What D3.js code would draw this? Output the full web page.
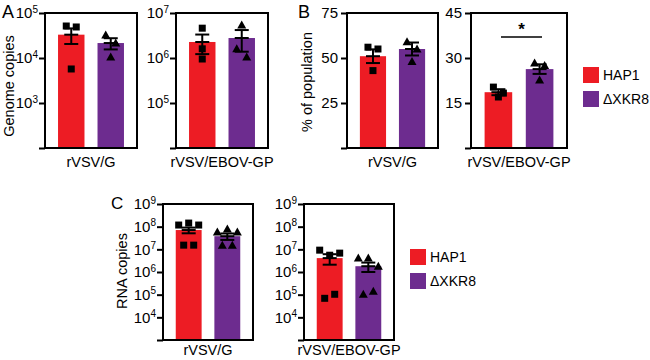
<!DOCTYPE html>
<html>
<head>
<meta charset="utf-8">
<script src="https://cdn.jsdelivr.net/npm/d3@7"></script>
<style>
  body { margin: 0; background: #fff; }
  text { font-family: "Liberation Sans", Arial, sans-serif; fill: #000; }
</style>
</head>
<body>
<div id="chart"></div>
<script>
// groups and categories
var groups = ["HAP1", "\u0394XKR8"]
var viruses = ["rVSV/G", "rVSV/EBOV-GP"]

// A: genome copies, [HAP1, dXKR8]
var genomeGMean = [33000, 21500]
var genomeGSem = [12500, 6000]
var genomeGPts = [[51400, 48900, 5700], [32400, 21500, 10500]]
var genomeEbMean = [2.27e6, 2.78e6]
var genomeEbSem = [1.05e6, 1.4e6]
var genomeEbPts = [[4.6e6, 1.6e6, 9.5e5], [5.4e6, 1.6e6, 1.05e6]]

// B: % of population
var popGMean = [51, 55]
var popGSem = [3.8, 3.6]
var popGPts = [[56, 55, 43], [59, 55, 48]]
var popEbMean = [18.6, 26.3]
var popEbSem = [1.0, 1.6]
var popEbPts = [[20.3, 17, 18.3], [28.3, 27.5, 22.7]]

// C: RNA copies
var rnaGMean = [7.1e7, 3.8e7]
var rnaGSem = [2.0e7, 1.2e7]
var rnaGPts = [[1.18e8, 1.44e8, 1.18e8, 1.53e7, 1.53e7], [5.8e7, 7.8e7, 5.8e7, 1.53e7, 1.53e7]]
var rnaEbMean = [4.1e6, 1.8e6]
var rnaEbSem = [2.0e6, 0.8e6]
var rnaEbPts = [[9.2e6, 5.5e6, 6.8e6, 6.9e4, 1.04e5], [4.1e6, 4.1e6, 1.8e6, 1.04e5, 1.4e5]]

// tick values
var ticksA1 = [1e2, 1e3, 1e4, 1e5]
var ticksA2 = [1e4, 1e5, 1e6, 1e7]
var ticksB1 = [0, 25, 50, 75]
var ticksB2 = [0, 15, 30, 45]
var ticksC = [1e3, 1e4, 1e5, 1e6, 1e7, 1e8, 1e9]

var colors = ["#ed1c24", "#6d2c8f"]

var svg = d3.select("#chart").append("svg")
  .attr("width", 650)
  .attr("height", 360)

svg.append("rect").attr("width", 650).attr("height", 360).attr("fill", "#fff")

// draw one small bar panel
function panel(opt) {
  var y = opt.log
    ? d3.scaleLog().domain([opt.ticks[0], opt.ticks[opt.ticks.length - 1]]).range([opt.y1, opt.y0])
    : d3.scaleLinear().domain([opt.ticks[0], opt.ticks[opt.ticks.length - 1]]).range([opt.y1, opt.y0])

  var x = d3.scaleBand()
    .domain(groups)
    .range([opt.x0, opt.x1])
    .paddingInner(0.33)
    .paddingOuter(0.33)

  var g = svg.append("g")

  // bars
  g.selectAll("rect.bar")
    .data(groups)
    .enter()
    .append("rect")
    .attr("class", "bar")
    .attr("x", function(d) { return x(d) })
    .attr("width", x.bandwidth())
    .attr("y", function(d, i) { return y(opt.mean[i]) })
    .attr("height", function(d, i) { return opt.y1 - y(opt.mean[i]) })
    .attr("fill", function(d, i) { return colors[i] })

  // error bars
  groups.forEach(function(grp, i) {
    var cx = x(grp) + x.bandwidth() / 2
    var hi = y(opt.mean[i] + opt.sem[i]), lo = y(opt.mean[i] - opt.sem[i])
    var eb = g.append("g").attr("stroke", "#000").attr("stroke-width", 2)
    eb.append("line").attr("x1", cx).attr("x2", cx).attr("y1", hi).attr("y2", lo)
    eb.append("line").attr("x1", cx - 7).attr("x2", cx + 7).attr("y1", hi).attr("y2", hi)
    eb.append("line").attr("x1", cx - 7).attr("x2", cx + 7).attr("y1", lo).attr("y2", lo)
    eb.append("line").attr("x1", cx - 7).attr("x2", cx + 7).attr("y1", y(opt.mean[i])).attr("y2", y(opt.mean[i]))

    // points, spread sideways when they sit on the same row
    var pts = opt.pts[i].map(function(v, k) { return {v: v, k: k, py: y(v)} })
    var sorted = pts.slice().sort(function(a, b) { return a.py - b.py })
    var rows = []
    sorted.forEach(function(p) {
      var row = rows[rows.length - 1]
      if (row && p.py - row[0].py < 9) row.push(p)
      else rows.push([p])
    })
    rows.forEach(function(row) {
      row.sort(function(a, b) { return a.k - b.k })
      row.forEach(function(p, j) { p.px = cx + (j - (row.length - 1) / 2) * 10 })
    })

    if (i == 0) {
      g.selectAll(null).data(pts).enter().append("rect")
        .attr("x", function(p) { return p.px - 3.5 })
        .attr("y", function(p) { return p.py - 3.5 })
        .attr("width", 7).attr("height", 7)
        .attr("fill", "#000")
    } else {
      g.selectAll(null).data(pts).enter().append("path")
        .attr("d", function(p) {
          return "M" + p.px + "," + (p.py - 4.5) + "L" + (p.px + 4.5) + "," + (p.py + 3.5) + "L" + (p.px - 4.5) + "," + (p.py + 3.5) + "Z"
        })
        .attr("fill", "#000")
    }
  })

  // y axis
  var axis = d3.axisLeft(y)
    .tickValues(opt.ticks)
    .tickSize(6)
    .tickSizeOuter(0)
    .tickPadding(3)
    .tickFormat(function(d, i) { return i == 0 ? "" : (opt.log ? "" : d) })

  var ax = g.append("g")
    .attr("transform", "translate(" + opt.x0 + ",0)")
    .call(axis)
  ax.select(".domain").remove()
  ax.selectAll(".tick line").attr("stroke", "#000").attr("stroke-width", 2)
  ax.selectAll(".tick text")
    .style("font-size", "15px")
    .style("font-family", "'Liberation Sans', Arial, sans-serif")
    .attr("fill", "#000")

  if (opt.log) {
    ax.selectAll(".tick text").each(function(d, i) {
      if (i == 0) return
      var t = d3.select(this).attr("x", -7)
      t.append("tspan").text("10")
      t.append("tspan").text(Math.round(Math.log10(d)))
        .attr("dy", "-0.55em")
        .style("font-size", "10px")
    })
  }

  // frame
  g.append("rect")
    .attr("x", opt.x0).attr("y", opt.y0)
    .attr("width", opt.x1 - opt.x0).attr("height", opt.y1 - opt.y0)
    .attr("fill", "none")
    .attr("stroke", "#000")
    .attr("stroke-width", 2)

  // category label
  g.append("text")
    .attr("x", (opt.x0 + opt.x1) / 2)
    .attr("y", opt.y1 + opt.labelGap)
    .attr("text-anchor", "middle")
    .style("font-size", "14.5px")
    .text(opt.label)

  return {x: x, y: y}
}

panel({x0: 45, x1: 137, y0: 13, y1: 148, log: true, ticks: ticksA1, labelGap: 19,
  mean: genomeGMean, sem: genomeGSem, pts: genomeGPts, label: viruses[0]})
panel({x0: 176, x1: 268, y0: 13, y1: 148, log: true, ticks: ticksA2, labelGap: 19,
  mean: genomeEbMean, sem: genomeEbSem, pts: genomeEbPts, label: viruses[1]})
panel({x0: 347, x1: 438, y0: 13, y1: 148, log: false, ticks: ticksB1, labelGap: 19,
  mean: popGMean, sem: popGSem, pts: popGPts, label: viruses[0]})
panel({x0: 471, x1: 567, y0: 13, y1: 148, log: false, ticks: ticksB2, labelGap: 19,
  mean: popEbMean, sem: popEbSem, pts: popEbPts, label: viruses[1]})
panel({x0: 163, x1: 253, y0: 204, y1: 340, log: true, ticks: ticksC, labelGap: 15,
  mean: rnaGMean, sem: rnaGSem, pts: rnaGPts, label: viruses[0]})
panel({x0: 304, x1: 394, y0: 204, y1: 340, log: true, ticks: ticksC, labelGap: 15,
  mean: rnaEbMean, sem: rnaEbSem, pts: rnaEbPts, label: viruses[1]})

// significance bar in B2
svg.append("line")
  .attr("x1", 501).attr("x2", 542).attr("y1", 37).attr("y2", 37)
  .attr("stroke", "#000").attr("stroke-width", 1.5)
svg.append("text")
  .attr("x", 521.5).attr("y", 35)
  .attr("text-anchor", "middle")
  .style("font-size", "17px")
  .style("font-weight", "bold")
  .text("*")

// y axis titles
function ytitle(x, y, txt) {
  svg.append("text")
    .attr("transform", "translate(" + x + "," + y + ") rotate(-90)")
    .attr("text-anchor", "middle")
    .attr("dy", "0.35em")
    .style("font-size", "14.5px")
    .text(txt)
}
ytitle(9, 86, "Genome copies")
ytitle(307, 82, "% of population")
ytitle(122, 271, "RNA copies")

// panel letters
svg.append("text").attr("x", 2).attr("y", 18).style("font-size", "18px").text("A")
svg.append("text").attr("x", 298).attr("y", 18).style("font-size", "18px").text("B")
svg.append("text").attr("x", 111).attr("y", 209).style("font-size", "17px").text("C")

// legends
function legend(x, y) {
  groups.forEach(function(grp, i) {
    svg.append("rect")
      .attr("x", x).attr("y", y + i * 24)
      .attr("width", 16).attr("height", 16)
      .attr("fill", colors[i])
    svg.append("text")
      .attr("x", x + 20).attr("y", y + i * 24 + 8)
      .attr("dy", "0.35em")
      .style("font-size", "14px")
      .text(grp)
  })
}
legend(583, 67)
legend(410, 249)
</script>
</body>
</html>
